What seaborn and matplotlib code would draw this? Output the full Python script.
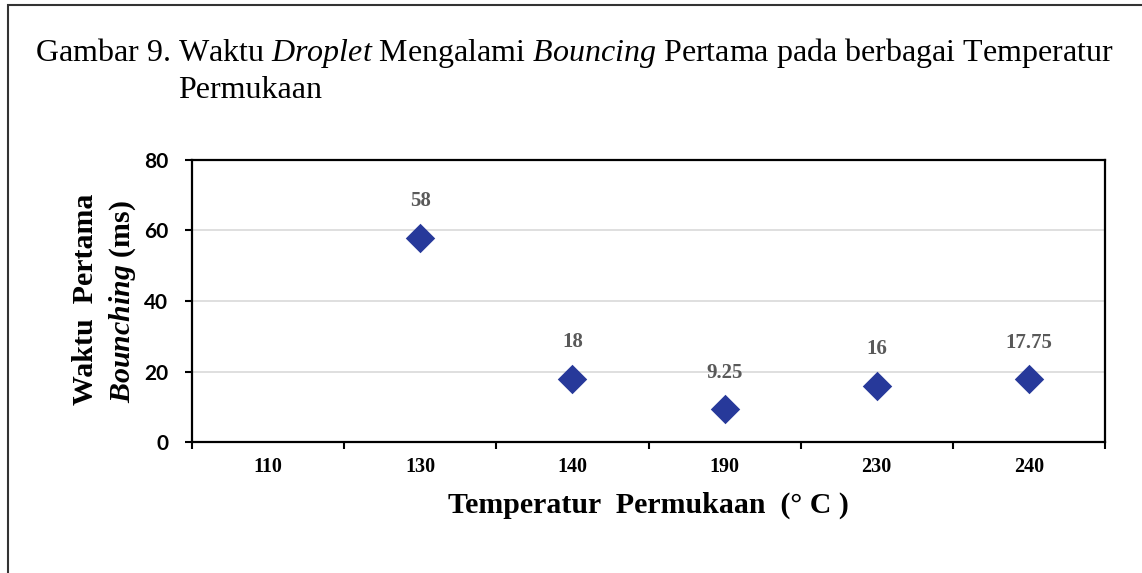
import numpy as np
import pandas as pd
import matplotlib
matplotlib.use("Agg")
import matplotlib.pyplot as plt
import seaborn as sns
from matplotlib.patches import Rectangle

# data
suhu = ['110', '130', '140', '190', '230', '240']
waktu = [np.nan, 58, 18, 9.25, 16, 17.75]
y_ticks = [0, 20, 40, 60, 80]

df = pd.DataFrame({'suhu': suhu, 'waktu': waktu})

sns.set_style("white")
plt.rcParams['text.color'] = 'black'
plt.rcParams['xtick.color'] = 'black'
plt.rcParams['ytick.color'] = 'black'
plt.rcParams['mathtext.fontset'] = 'custom'
plt.rcParams['mathtext.rm'] = 'Liberation Serif'
plt.rcParams['mathtext.it'] = 'Liberation Serif:italic'
plt.rcParams['mathtext.bf'] = 'Liberation Serif:bold'
plt.rcParams['mathtext.bfit'] = 'Liberation Serif:italic:bold'

serif = 'Liberation Serif'
biru = '#27399A'

fig = plt.figure(figsize=(11.42, 5.73), dpi=100)
W, H = 1142, 573

# bingkai luar
fig.patches.append(Rectangle((8 / W, -0.2), 1.2, 1.2 - 5 / H, transform=fig.transFigure,
                             fill=False, edgecolor='#333333', linewidth=1.5))

# judul
fig.text(35 / W, 1 - 61 / H,
         r'Gambar 9. Waktu $\mathit{Droplet}$ Mengalami $\mathit{Bouncing}$ Pertama pada berbagai Temperatur',
         fontsize=23, family=serif, va='baseline', ha='left')
fig.text(178 / W, 1 - 98 / H, 'Permukaan', fontsize=23, family=serif, va='baseline', ha='left')

ax = fig.add_axes([192 / W, 1 - 442 / H, (1105 - 192) / W, (442 - 160) / H])

sns.stripplot(data=df, x='suhu', y='waktu', order=suhu, jitter=False, marker='D',
              s=15, color=biru, linewidth=0, ax=ax, zorder=3)

ax.set_ylim(0, 80)
ax.set_xlim(-0.5, len(suhu) - 0.5)
ax.set_yticks(y_ticks)
ax.set_yticklabels([str(t) for t in y_ticks], fontsize=15, fontweight='bold', family='Lato')

# tick di batas kategori, label di tengah
ax.set_xticks(np.arange(-0.5, len(suhu), 1))
ax.set_xticklabels([])
ax.set_xticks(np.arange(len(suhu)), minor=True)
ax.set_xticklabels(suhu, minor=True, fontsize=14.5, fontweight='bold', family=serif)
ax.tick_params(axis='x', which='minor', length=0, pad=11, labelcolor='black')
ax.tick_params(axis='x', which='major', length=5, width=1.5, direction='out', color='black')
ax.tick_params(axis='y', length=5, width=1.5, direction='out', color='black', pad=12,
               labelcolor='black')
ax.tick_params(bottom=True, left=True)

ax.yaxis.grid(True, color='#D9D9D9', linewidth=1.2)
ax.set_axisbelow(True)
for sp in ax.spines.values():
    sp.set_color('black')
    sp.set_linewidth(1.6)

# label data
for i, v in enumerate(waktu):
    if np.isnan(v):
        continue
    ax.annotate(f'{v:g}', (i, v), xytext=(0, 26), textcoords='offset points',
                ha='center', va='center', fontsize=15, fontweight='bold',
                family=serif, color='#595959')

ax.set_xlabel('')
ax.set_ylabel('')

fig.text(648 / W, 1 - 505 / H, 'Temperatur  Permukaan  (° C )', fontsize=21.5,
         fontweight='bold', family=serif, ha='center', va='center')

fig.text(86 / W, 1 - 299 / H, 'Waktu  Pertama', fontsize=21.5, fontweight='bold',
         family=serif, rotation=90, ha='center', va='center')
fig.text(123 / W, 1 - 302 / H, r'$\mathbfit{Bounching}$ (ms)', fontsize=21.5, fontweight='bold',
         family=serif, rotation=90, ha='center', va='center')

fig.savefig('out.png', dpi=100)
